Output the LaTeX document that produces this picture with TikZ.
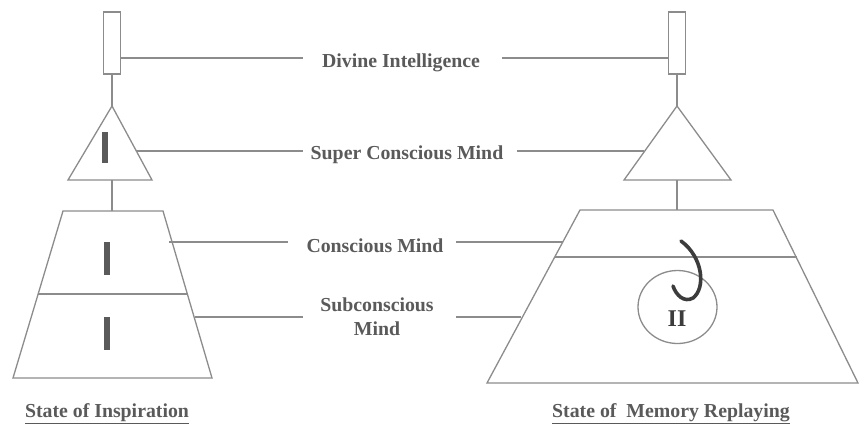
\documentclass[tikz,border=0pt]{standalone}
\usepackage{fontspec}
\setmainfont{Liberation Serif}
\usetikzlibrary{calc,shapes.geometric}
\definecolor{linec}{RGB}{140,140,140}
\definecolor{textc}{RGB}{90,90,90}
\definecolor{barc}{RGB}{90,90,90}
\definecolor{hookc}{RGB}{60,60,60}
\begin{document}
\begin{tikzpicture}[x=1pt,y=-1pt,
  shape line/.style={draw=linec,line width=1.3pt,line join=miter},
  conn/.style={draw=linec,line width=1.3pt},
  lbl/.style={text=textc,font=\fontsize{19.8}{24}\selectfont\bfseries,inner sep=0pt,align=center},
  captionlbl/.style={text=textc,font=\fontsize{19.8}{24}\selectfont\bfseries,inner sep=0pt},
  bar/.style={draw=none,fill=barc},
  rectbox/.style={shape line,fill=white,minimum width=17pt,minimum height=62pt,inner sep=0pt}]
\path[use as bounding box,fill=white] (0,0) rectangle (859,429);

% ---------- left figure ----------
\node[rectbox] (rL) at (112,43) {};
\coordinate (tLa) at (112,106);
\coordinate (tLl) at (68,180);
\coordinate (tLr) at (152,180);
\draw[shape line] (tLa) -- (tLl) -- (tLr) -- cycle;
\coordinate (tLb) at (112,180);
\coordinate (pLtl) at (63,211);
\coordinate (pLtr) at (163,211);
\coordinate (pLbr) at (212,378);
\coordinate (pLbl) at (13,378);
\draw[shape line] (pLtl) -- (pLtr) -- (pLbr) -- (pLbl) -- cycle;
\coordinate (pLdl) at (38,294);
\coordinate (pLdr) at (187,294);
\draw[conn] (pLdl) -- (pLdr);
\coordinate (pLt) at (112,211);
\draw[conn] (rL.south) -- (tLa);
\draw[conn] (tLb) -- (pLt);
\fill[bar] (102,132) rectangle (108,163);
\fill[bar] (104,242) rectangle (110,275);
\fill[bar] (104,317) rectangle (110,350);

% ---------- right figure ----------
\node[rectbox] (rR) at (677,43) {};
\coordinate (tRa) at (677,106);
\coordinate (tRl) at (624,180);
\coordinate (tRr) at (731,180);
\draw[shape line] (tRa) -- (tRl) -- (tRr) -- cycle;
\coordinate (tRb) at (677,180);
\coordinate (pRtl) at (580,210);
\coordinate (pRtr) at (773,210);
\coordinate (pRbr) at (858,383);
\coordinate (pRbl) at (487,383);
\draw[shape line] (pRtl) -- (pRtr) -- (pRbr) -- (pRbl) -- cycle;
\coordinate (pRdl) at (555,257);
\coordinate (pRdr) at (797,257);
\draw[conn] (pRdl) -- (pRdr);
\coordinate (pRt) at (677,210);
\draw[conn] (rR.south) -- (tRa);
\draw[conn] (tRb) -- (pRt);
\node[shape line,ellipse,minimum width=79pt,minimum height=73pt,inner sep=0pt] (circ) at (677.5,307) {};
\node[text=hookc,font=\fontsize{24}{26}\selectfont\bfseries,inner sep=0pt] (two) at (677,319) {II};
\draw[hookc,line width=3.6pt,line cap=round] (681,241) .. controls (703,257) and (706,288) .. (693,298) .. controls (684,303) and (676,295) .. (673,286);

% ---------- labels ----------
\node[lbl] (di) at (401,63) {Divine Intelligence};
\node[lbl] (sc) at (407,155) {Super Conscious Mind};
\node[lbl] (cm) at (375,246) {Conscious Mind};
\node[lbl] (sm) at (377,317) {Subconscious\\Mind};

\coordinate (diL) at (303,58);
\coordinate (diR) at (502,58);
\coordinate (rLm) at (120.5,58);
\coordinate (rRm) at (668.5,58);
\draw[conn] (rLm) -- (diL);
\draw[conn] (diR) -- (rRm);

\coordinate (tLe) at (136,151);
\coordinate (scL) at (303,151);
\coordinate (scR) at (517,151);
\coordinate (tRe) at (644,151);
\draw[conn] (tLe) -- (scL);
\draw[conn] (scR) -- (tRe);

\coordinate (pLe1) at (169,242);
\coordinate (cmL) at (288,242);
\coordinate (cmR) at (456,242);
\coordinate (pRe1) at (563,242);
\draw[conn] (pLe1) -- (cmL);
\draw[conn] (cmR) -- (pRe1);

\coordinate (pLe2) at (195,317);
\coordinate (smL) at (303,317);
\coordinate (smR) at (456,317);
\coordinate (pRe2) at (521,317);
\draw[conn] (pLe2) -- (smL);
\draw[conn] (smR) -- (pRe2);

% ---------- captions ----------
\node[captionlbl] (capL) at (107,414) {\underline{State of Inspiration}};
\node[captionlbl] (capR) at (671,414) {\underline{State of\ \ Memory Replaying}};
\end{tikzpicture}
\end{document}
